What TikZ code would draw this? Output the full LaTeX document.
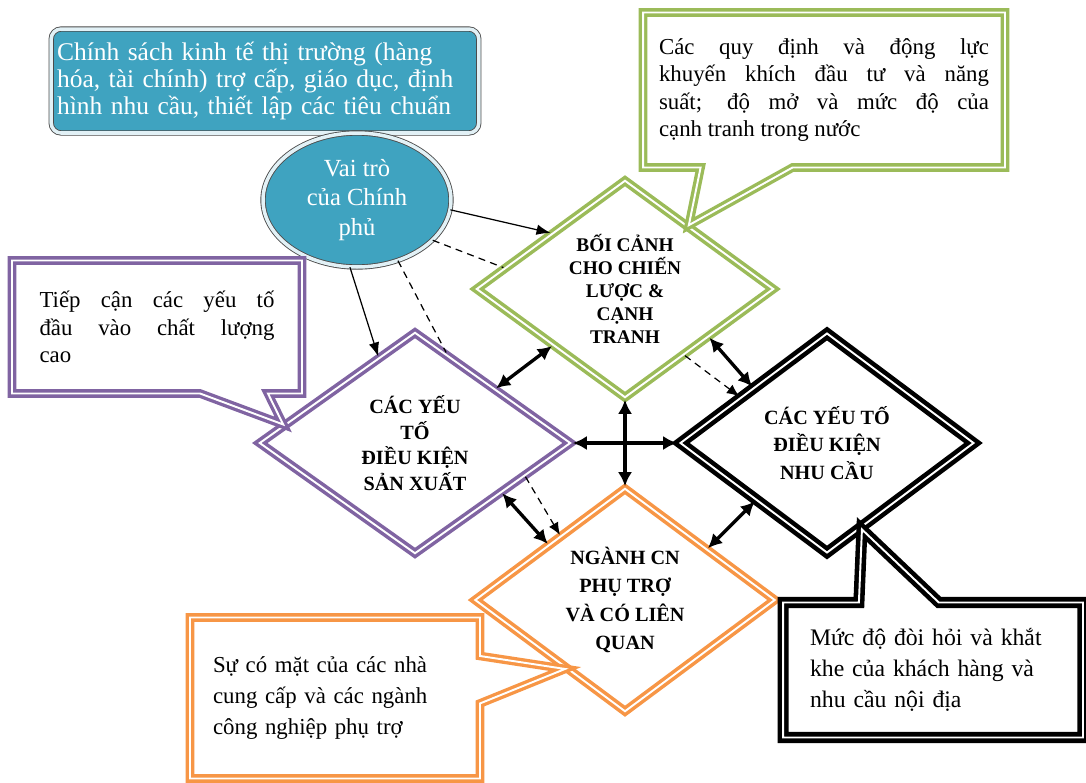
\documentclass[tikz,border=0pt]{standalone}
\usepackage{fontspec}
\setmainfont{Liberation Serif}
\usetikzlibrary{arrows.meta}
\usetikzlibrary{shapes.geometric, shapes.callouts}

\definecolor{govblue}{HTML}{3FA3C0}
\definecolor{strgreen}{HTML}{9BBB59}
\definecolor{facpurple}{HTML}{8064A2}
\definecolor{indorange}{HTML}{F79646}

\tikzset{
  factor/.style={diamond, draw=#1, line width=2pt, double=white, double distance=1.1pt,
    fill=white, inner sep=0pt, shape aspect=1.35, align=center,
    font=\fontsize{11.5}{14.5}\selectfont\bfseries},
  note/.style={rectangle callout, draw=#1, line width=1.9pt, double=white, double distance=1.1pt,
    fill=white, inner sep=0pt, font=\fontsize{13}{15.5}\selectfont},
  govshape/.style={fill=govblue, draw=black!70, line width=0.5pt, double=govblue!15,
    double distance=2pt, text=white, align=center},
  link/.style={line width=1.9pt, {Latex[length=8pt,width=8pt]}-{Latex[length=8pt,width=8pt]}},
  role/.style={line width=0.7pt, -{Latex[length=8pt,width=6pt]}},
  hint/.style={line width=0.7pt, dash pattern=on 4pt off 3pt}
}

\begin{document}
\begin{tikzpicture}[x=0.02cm, y=-0.02cm]
  \useasboundingbox (0,0) rectangle (1086,782);

  % government
  \node[govshape, rectangle, rounded corners=0.2cm, minimum width=8.52cm, minimum height=2.08cm,
    text width=8.32cm, align=left, font=\fontsize{14.5}{15.5}\selectfont] (policy) at (265,81)
    {Chính sách kinh tế thị trường (hàng\\ hóa, tài chính) trợ cấp, giáo dục, định\\ hình nhu cầu, thiết lập các tiêu chuẩn};
  \node[govshape, ellipse, minimum width=3.76cm, minimum height=2.68cm,
    font=\fontsize{14}{17}\selectfont] (gov) at (357,200) {Vai trò\\ của Chính\\ phủ};

  % the four factors
  \node[factor=strgreen, minimum width=5.96cm, minimum height=4.36cm,
    font=\fontsize{11}{13}\selectfont\bfseries] (gr) at (625,289)
    {BỐI CẢNH\\ CHO CHIẾN\\ LƯỢC \&\\ CẠNH\\ TRANH};
  \node[factor=facpurple, minimum width=6.24cm, minimum height=4.44cm] (pu) at (415,443)
    {CÁC YẾU\\ TỐ\\ ĐIỀU KIỆN\\ SẢN XUẤT};
  \node[factor=black, line width=2.6pt, minimum width=5.9cm, minimum height=4.42cm,
    font=\fontsize{11.5}{15.5}\selectfont\bfseries] (bk) at (827,443)
    {CÁC YẾU TỐ\\ ĐIỀU KIỆN\\ NHU CẦU};
  \node[factor=indorange, minimum width=6.02cm, minimum height=4.48cm,
    font=\fontsize{11.5}{16}\selectfont\bfseries] (or) at (625,600)
    {NGÀNH CN\\ PHỤ TRỢ\\ VÀ CÓ LIÊN\\ QUAN};

  % callouts
  \node[note=strgreen, minimum width=7.24cm, minimum height=3.1cm, callout pointer width=1.84cm,
    callout absolute pointer={(gr.45)}, text width=6.6cm, align=justify] (grnote) at (824,90)
    {Các quy định và động lực\linebreak khuyến khích đầu tư và năng\linebreak suất; độ mở và mức độ của\linebreak cạnh tranh trong nước};
  \node[note=facpurple, minimum width=5.8cm, minimum height=2.66cm, callout pointer width=1.36cm,
    callout absolute pointer={(pu.172)}, text width=4.7cm, align=justify] (punote) at (157,327)
    {Tiếp cận các yếu tố\linebreak đầu vào chất lượng\linebreak cao};
  \node[note=indorange, minimum width=5.8cm, minimum height=3.22cm, callout pointer width=0.95cm,
    callout absolute pointer={(or.-131)}, text width=4.88cm, align=left,
    font=\fontsize{13}{17.5}\selectfont] (ornote) at (335,698)
    {Sự có mặt của các nhà\\ cung cấp và các ngành\\ công nghiệp phụ trợ};
  \node[note=black, line width=2.6pt, minimum width=6cm, minimum height=2.7cm, callout pointer width=1.6cm,
    callout absolute pointer={(bk.-68)}, text width=4.92cm, align=left,
    font=\fontsize{13.5}{17.5}\selectfont] (bknote) at (933,670)
    {Mức độ đòi hỏi và khắt\\ khe của khách hàng và\\ nhu cầu nội địa};

  % connectors
  \draw[role] (gov.-6) -- (gr.143);
  \draw[hint] (gov.-28) -- (gr.170);
  \draw[role] (gov.-96) -- (pu.113);
  \draw[hint] (gov.-56) -- (pu.71);

  \draw[link] (pu.34) -- (gr.218);
  \draw[link] (gr.-30) -- (bk.143);
  \draw[hint, -{Latex[length=7pt,width=6pt]}] (gr.-48) -- (bk.152);
  \draw[link] (pu.east) -- (bk.west);
  \draw[link] (gr.south) -- (or.north);
  \draw[link] (pu.-30) -- (or.144);
  \draw[hint, -{Latex[length=7pt,width=6pt]}] (pu.-17) -- (or.135);
  \draw[link] (bk.219) -- (or.32);
\end{tikzpicture}
\end{document}
